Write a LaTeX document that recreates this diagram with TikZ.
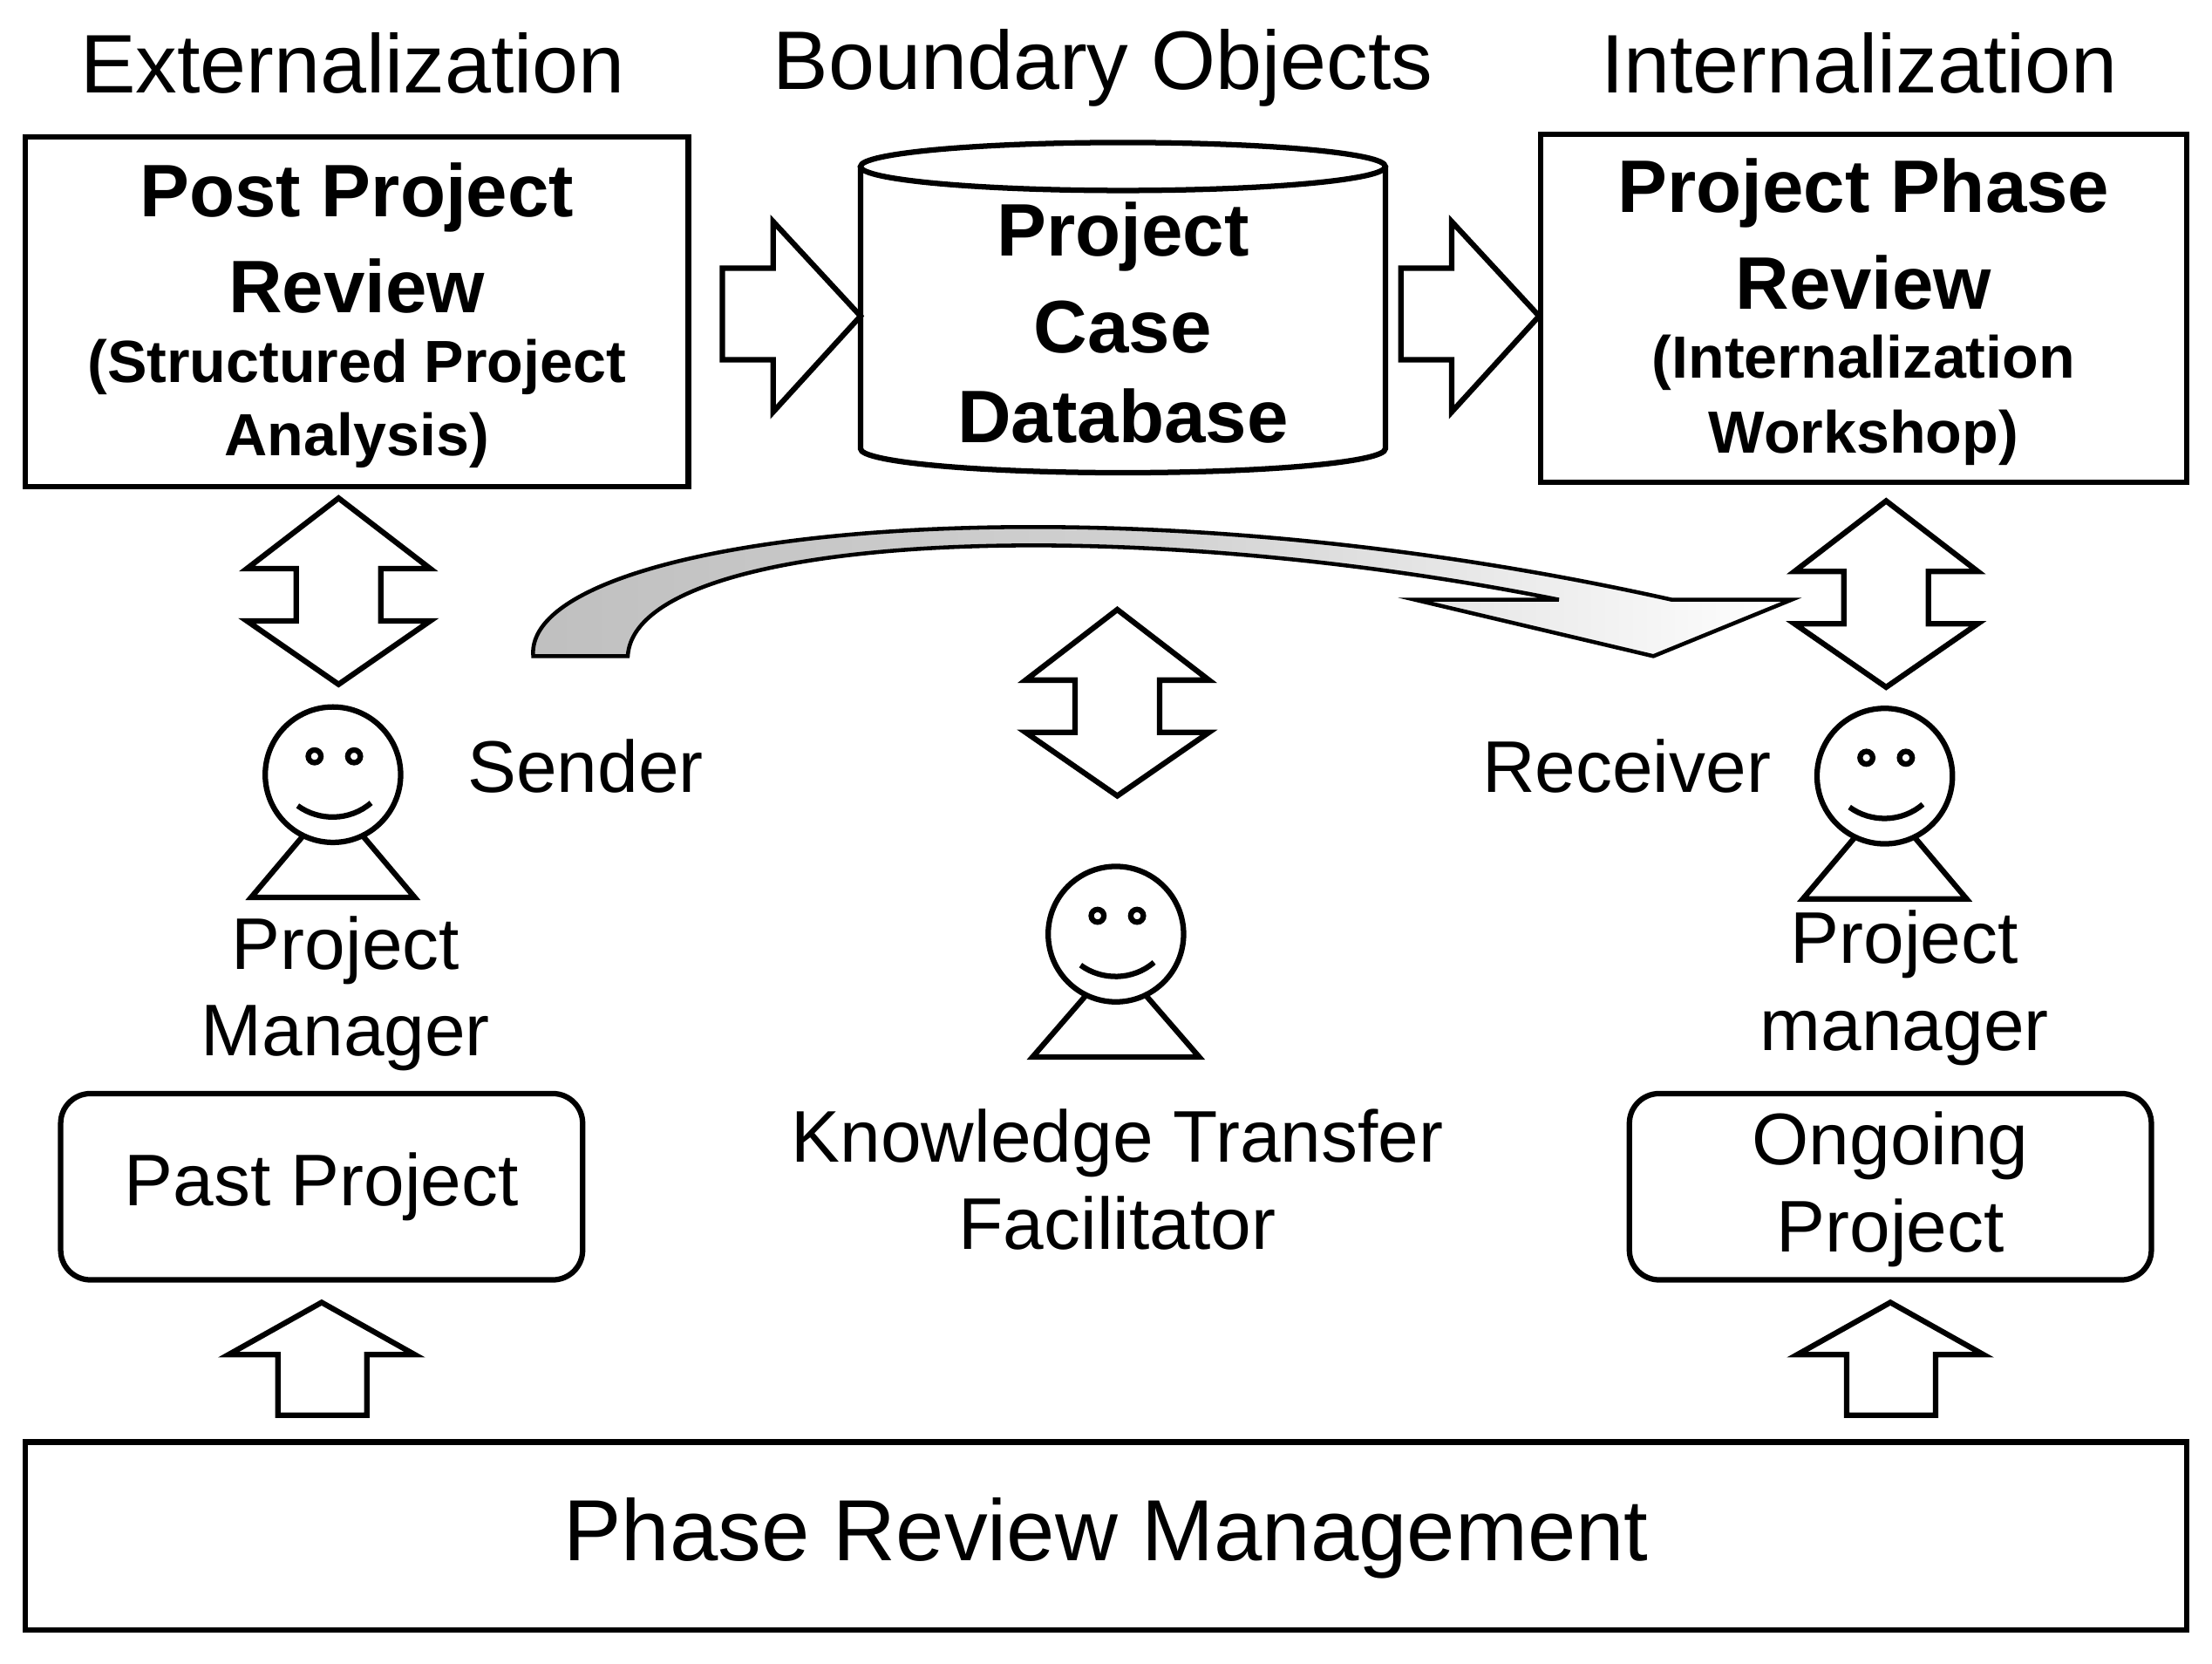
\documentclass[tikz,border=0pt]{standalone}
\usepackage{fontspec}
\setmainfont{Liberation Sans}
\usetikzlibrary{shapes.geometric}
\begin{document}
\begin{tikzpicture}[x=0.02cm,y=-0.02cm,line width=2.2pt,
 title/.style={font=\fontsize{33.5}{36}\selectfont},
 big/.style={font=\fontsize{30}{33}\selectfont\bfseries},
 small/.style={font=\fontsize{24}{26}\selectfont\bfseries},
 norm/.style={font=\fontsize{29.5}{35}\selectfont,align=center},
 rbox/.style={draw,rounded corners=12pt},
 bar/.style={draw,line join=miter}]
\useasboundingbox (0,0) rectangle (1568,1179);
% titles
\node[title] (t1) at (250,45) {Externalization};
\node[title] (t2) at (782,48) {Boundary Objects};
\node[title] (t3) at (1318,45) {Internalization};
% left box
\draw (18,97) rectangle (488,345);
\node[big] (l1) at (253,140) {Post Project};
\node[big] (l2) at (253,203) {Review};
\node[small] (l3) at (253,260) {(Structured Project};
\node[small] (l4) at (253,312) {Analysis)};
% cylinder
\draw (610,118) -- (610,318) arc[start angle=180,end angle=0,x radius=186,y radius=17] -- (982,118);
\draw (796,118) ellipse [x radius=186,y radius=17];
\node[big] (c1) at (796,168) {Project};
\node[big] (c2) at (796,232) {Case};
\node[big] (c3) at (796,295) {Database};
% right box
\draw (1092,95) rectangle (1550,342);
\node[big] (r1) at (1321,137) {Project Phase};
\node[big] (r2) at (1321,200) {Review};
\node[small] (r3) at (1321,257) {(Internalization};
\node[small] (r4) at (1321,310) {Workshop)};
% right block arrows
\foreach \x in {512,993}{
 \draw[line join=miter] (\x,190) -- (\x+36,190) -- (\x+36,157) -- (\x+98,224) -- (\x+36,292) -- (\x+36,255) -- (\x,255) -- cycle;}
% double arrows
\foreach \cx/\ty in {240/353,792/432,1337/355}{
 \draw[line join=miter] (\cx,\ty) -- (\cx+65,\ty+50) -- (\cx+30,\ty+50) -- (\cx+30,\ty+87) -- (\cx+65,\ty+87) -- (\cx,\ty+132) -- (\cx-65,\ty+87) -- (\cx-30,\ty+87) -- (\cx-30,\ty+50) -- (\cx-65,\ty+50) -- cycle;}
% curved arrow
\shade[left color=black!25,right color=white,middle color=black!18,shading angle=90]
 (378,465) .. controls (370,380) and (760,330) .. (1185,425) -- (1270,425) -- (1172,465) -- (1003,425) -- (1105,425) .. controls (780,360) and (450,380) .. (445,465) -- cycle;
\draw[line width=1.6pt,line join=miter]
 (378,465) .. controls (370,380) and (760,330) .. (1185,425) -- (1270,425) -- (1172,465) -- (1003,425) -- (1105,425) .. controls (780,360) and (450,380) .. (445,465) -- cycle;
% persons
\foreach \cx/\cy/\hw in {236/549/58,791/662/59,1336/550/58}{
 \draw (\cx,\cy) circle[radius=48];
 \draw (\cx-13,\cy-13) circle[radius=4.5];
 \draw (\cx+15,\cy-13) circle[radius=4.5];
 \draw (\cx-25,\cy+22) .. controls (\cx-10,\cy+33) and (\cx+12,\cy+33) .. (\cx+27,\cy+20);
 \draw (\cx-20,\cy+42) -- (\cx-\hw,\cy+87) -- (\cx+\hw,\cy+87) -- (\cx+20,\cy+42);}
\node[norm] (snd) at (415,543) {Sender};
\node[norm] (rcv) at (1153,543) {Receiver};
\node[norm] (pm1) at (245,704) {Project\\Manager};
\node[norm] (pm2) at (1350,700) {Project\\manager};
\node[norm] (ktf) at (792,836) {Knowledge Transfer\\Facilitator};
% rounded boxes
\draw[rbox] (43,775) rectangle (413,907);
\node[norm] (pp) at (228,841) {Past Project};
\draw[rbox] (1155,775) rectangle (1525,907);
\node[norm] (op) at (1340,843) {Ongoing\\Project};
% up arrows
\foreach \cx in {228,1340}{
 \draw[line join=miter] (\cx,923) -- (\cx+66,960) -- (\cx+32,960) -- (\cx+32,1003) -- (\cx-31,1003) -- (\cx-31,960) -- (\cx-66,960) -- cycle;}
% bottom
\draw (18,1022) rectangle (1550,1155);
\node[font=\fontsize{35}{40}\selectfont] (prm) at (784,1090) {Phase Review Management};
\end{tikzpicture}
\end{document}
